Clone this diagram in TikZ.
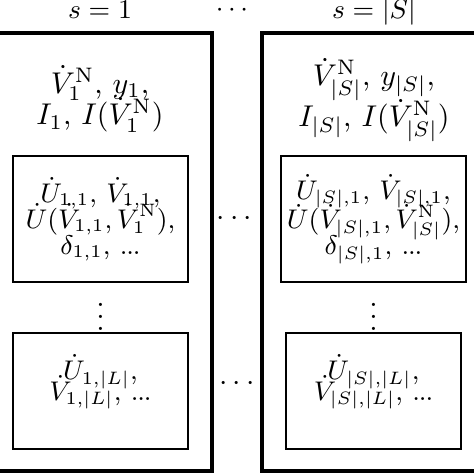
\documentclass[tikz,border=0pt]{standalone}
\usetikzlibrary{positioning}

\newcommand\tdots{.\kern-0.4pt.\kern-0.4pt.}

\begin{document}
\begin{tikzpicture}[
  x=1pt/3,y=-1pt/3,
  node distance=16.3pt,
  frame/.style={draw,line width=1.1pt},
  cell/.style={draw,line width=0.7pt,minimum width=58.3pt,inner sep=2pt,align=center,font=\small},
  info/.style={align=center,inner sep=0pt},
  head/.style={anchor=base,font=\small}
]
  \useasboundingbox (0,0) rectangle (474,474);

  % outer frames, cut off at the sides
  \draw[frame] (-40,33) rectangle (212,471);
  \draw[frame] (262,33) rectangle (514,471);

  % headers
  \node[head] (h1) at (100,18) {$s=1$};
  \node[head] (hS) at (374,18) {$s=|S|$};
  \path (h1) -- node[font=\small] {$\cdots$} (hS);

  % scenario data
  \node[info] (d1) at (100,99) {$\dot V_1^{\mathrm N}$, $y_1$,\\[-1.5pt] $I_1$, $I(\dot V_1^{\mathrm N})$};
  \node[info] (dS) at (374,100) {$\dot V_{|S|}^{\mathrm N}$, $y_{|S|}$,\\[-1.5pt] $I_{|S|}$, $I(\dot V_{|S|}^{\mathrm N})$};

  % line cells
  \node[cell,minimum height=42pt] (c11) at (100.5,219)
    {$\dot U_{1,1}$, $\dot V_{1,1}$,\\[-2.3pt] $\dot U(\dot V_{1,1},\dot V_1^{\mathrm N})$,\\[-2.3pt] $\delta_{1,1}$, \tdots};
  \node[cell,minimum height=38.7pt,below=of c11] (c1L) {};
  \node[info,font=\small] (t1L) at ([yshift=3pt]c1L.center)
    {$\dot U_{1,|L|}$,\\[-5.3pt] $\dot V_{1,|L|}$, \tdots};
  \node[cell,minimum height=42pt] (cS1) at (373.5,219)
    {$\dot U_{|S|,1}$, $\dot V_{|S|,1}$,\\[-2.3pt] $\dot U(\dot V_{|S|,1},\dot V_{|S|}^{\mathrm N})$,\\[-2.3pt] $\delta_{|S|,1}$, \tdots};
  \node[cell,minimum height=38.7pt,below=of cS1] (cSL) {};
  \node[info,font=\small] (tSL) at ([yshift=3pt]cSL.center)
    {$\dot U_{|S|,|L|}$,\\[-5.3pt] $\dot V_{|S|,|L|}$, \tdots};

  \path (c11) -- node {$\vdots$} (c1L);
  \path (cS1) -- node {$\vdots$} (cSL);
  \path (c11) -- node {$\cdots$} (cS1);
  \path (c1L) -- node[yshift=2.5pt] {$\cdots$} (cSL);
\end{tikzpicture}
\end{document}
